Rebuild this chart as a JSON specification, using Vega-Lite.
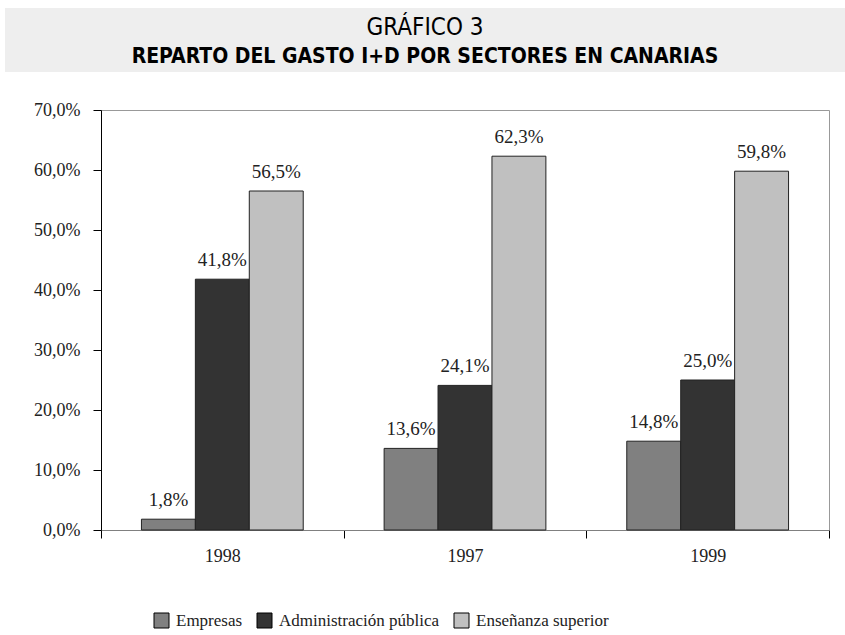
{
  "$schema": "https://vega.github.io/schema/vega-lite/v6.json",
  "padding": {"left": 5, "top": 8, "right": 0, "bottom": 0},
  "background": "white",
  "spacing": 28,
  "config": {
    "locale": {"number": {"decimal": ",", "thousands": ".", "grouping": [3], "currency": ["", " €"]}},
    "view": {"stroke": null}
  },
  "vconcat": [
    {
      "width": 840,
      "height": 64,
      "view": {"fill": "#eeeeee", "stroke": null},
      "encoding": {
        "y": {"field": "line", "type": "nominal", "axis": null, "scale": {"domain": ["1", "2"], "range": [20, 49], "padding": 0}},
        "text": {"field": "txt"}
      },
      "layer": [
        {
          "data": {"values": [{"line": "1", "txt": "GRÁFICO 3"}]},
          "mark": {"type": "text", "font": "DejaVu Sans Condensed, Liberation Sans Narrow, Liberation Sans", "fontSize": 24, "fontWeight": "normal", "color": "#000000", "align": "center", "baseline": "middle"}
        },
        {
          "data": {"values": [{"line": "2", "txt": "REPARTO DEL GASTO I+D POR SECTORES EN CANARIAS"}]},
          "mark": {"type": "text", "font": "DejaVu Sans Condensed, Liberation Sans Narrow, Liberation Sans", "fontSize": 21, "fontWeight": "bold", "color": "#000000", "align": "center", "baseline": "middle"}
        }
      ]
    },
    {
      "spacing": 0,
      "hconcat": [
        {
          "width": 1,
          "height": 420,
          "data": {"values": [{"t": ""}]},
          "mark": {"type": "text"},
          "encoding": {"text": {"field": "t"}}
        },
        {
          "width": 728,
          "height": 420,
          "view": {"stroke": "#999999", "strokeWidth": 1},
          "data": {"values": [
            {"year": "1998", "sector": "Empresas", "v": 0.018},
            {"year": "1998", "sector": "Administración pública", "v": 0.418},
            {"year": "1998", "sector": "Enseñanza superior", "v": 0.565},
            {"year": "1997", "sector": "Empresas", "v": 0.136},
            {"year": "1997", "sector": "Administración pública", "v": 0.241},
            {"year": "1997", "sector": "Enseñanza superior", "v": 0.623},
            {"year": "1999", "sector": "Empresas", "v": 0.148},
            {"year": "1999", "sector": "Administración pública", "v": 0.25},
            {"year": "1999", "sector": "Enseñanza superior", "v": 0.598}
          ]},
          "encoding": {
            "x": {
              "field": "year", "type": "nominal", "sort": ["1998", "1997", "1999"],
              "scale": {"paddingInner": 0, "paddingOuter": 0},
              "axis": {
                "title": null, "labelAngle": 0, "tickBand": "extent", "tickSize": 8,
                "domainColor": "#808080", "tickColor": "#000000",
                "labelFont": "Liberation Serif", "labelFontSize": 18, "labelColor": "#222222", "labelPadding": 9
              }
            },
            "xOffset": {
              "field": "sector", "type": "nominal",
              "sort": ["Empresas", "Administración pública", "Enseñanza superior"],
              "scale": {"paddingInner": 0, "paddingOuter": 0.75}
            },
            "y": {
              "field": "v", "type": "quantitative",
              "scale": {"domain": [0, 0.7]},
              "axis": {
                "title": null, "format": ".1%", "values": [0, 0.1, 0.2, 0.3, 0.4, 0.5, 0.6, 0.7],
                "grid": false, "tickSize": 8, "domainColor": "#000000", "tickColor": "#000000",
                "labelFont": "Liberation Serif", "labelFontSize": 18, "labelColor": "#222222", "labelPadding": 13,
                "minExtent": 94, "maxExtent": 94
              }
            }
          },
          "layer": [
            {
              "mark": {"type": "bar", "stroke": "#222222", "strokeWidth": 1},
              "encoding": {
                "fill": {
                  "field": "sector", "type": "nominal",
                  "sort": ["Empresas", "Administración pública", "Enseñanza superior"],
                  "scale": {"domain": ["Empresas", "Administración pública", "Enseñanza superior"], "range": ["#808080", "#333333", "#c0c0c0"]},
                  "legend": {
                    "title": null, "orient": "none", "direction": "horizontal",
                    "legendX": 148, "legendY": 604,
                    "symbolType": "square", "symbolSize": 225, "symbolStrokeColor": "#000000", "symbolStrokeWidth": 1,
                    "labelFont": "Liberation Serif", "labelFontSize": 17, "labelColor": "#222222",
                    "labelOffset": 6, "columnPadding": 12, "labelLimit": 300
                  }
                }
              }
            },
            {
              "mark": {"type": "text", "baseline": "bottom", "dy": -9, "font": "Liberation Serif", "fontSize": 19, "color": "#222222"},
              "encoding": {
                "text": {"field": "v", "type": "quantitative", "format": ".1%"}
              }
            }
          ]
        }
      ]
    }
  ]
}
